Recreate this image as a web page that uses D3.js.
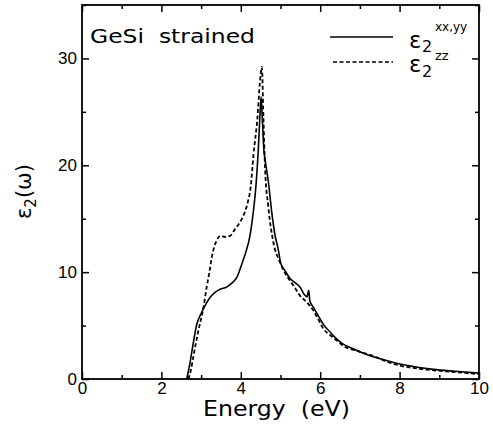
<!DOCTYPE html>
<html>
<head>
<meta charset="utf-8">
<script src="https://cdn.jsdelivr.net/npm/d3@7"></script>
<style>
  body { margin: 0; background: #fff; }
  svg { display: block; font-family: "DejaVu Sans", sans-serif; }
</style>
</head>
<body>
<div id="chart"></div>
<script>
// Energy (eV) / eps2 for the in-plane component (xx,yy)
const energyXY = [2.64, 2.72, 2.80, 2.89, 3.01, 3.12, 3.22, 3.35, 3.48, 3.64, 3.78, 3.90, 4.02, 4.12, 4.23, 4.32, 4.38, 4.44, 4.48, 4.51, 4.54, 4.58, 4.62, 4.69, 4.78, 4.86, 4.95, 5.00, 5.12, 5.24, 5.37, 5.49, 5.60, 5.67, 5.71, 5.74, 5.83, 6.00, 6.10, 6.25, 6.40, 6.58, 6.85, 7.17, 7.60, 8.01, 8.45, 8.85, 9.40, 10.0];
const eps2XY = [0, 1.5, 3.3, 5.1, 6.2, 7.0, 7.6, 8.1, 8.4, 8.6, 9.0, 9.5, 10.7, 11.8, 13.4, 15.8, 18.0, 21.4, 24.5, 26.4, 24.5, 21.5, 20.3, 18.6, 15.6, 13.5, 12.0, 10.9, 10.1, 9.4, 9.0, 8.6, 7.9, 7.7, 8.3, 7.3, 6.7, 5.6, 5.0, 4.4, 3.8, 3.26, 2.8, 2.3, 1.8, 1.4, 1.1, 0.9, 0.72, 0.55];

// zz component (dashed)
const energyZZ = [2.68, 2.74, 2.80, 2.93, 3.06, 3.14, 3.21, 3.27, 3.39, 3.49, 3.60, 3.73, 3.85, 4.00, 4.10, 4.18, 4.25, 4.32, 4.42, 4.48, 4.53, 4.57, 4.61, 4.69, 4.82, 4.99, 5.10, 5.24, 5.37, 5.49, 5.66, 5.83, 5.95, 6.08, 6.25, 6.42, 6.58, 6.95, 7.34, 7.70, 8.01, 8.45, 8.85, 9.40, 10.0];
const eps2ZZ = [0, 0.8, 2.0, 4.5, 6.7, 8.6, 10.0, 11.4, 12.95, 13.4, 13.3, 13.4, 14.0, 14.8, 15.6, 16.6, 18.0, 21.0, 24.5, 27.7, 29.2, 24.5, 19.8, 16.2, 12.8, 10.9, 10.0, 9.2, 8.5, 7.8, 7.2, 6.4, 5.6, 4.7, 4.1, 3.6, 3.1, 2.6, 2.16, 1.6, 1.25, 0.98, 0.82, 0.65, 0.45];

const xTicks = [0, 2, 4, 6, 8, 10];
const xMinor = [1, 3, 5, 7, 9];
const yTicks = [0, 10, 20, 30];
const yMinor = [5, 15, 25, 35];

const width = 493, height = 425;
const margins = {top: 5, right: 14, bottom: 46, left: 82};

const svg = d3.select("#chart")
  .append("svg")
    .attr("width", width)
    .attr("height", height)
    .attr("viewBox", [0, 0, width, height]);

const xScale = d3.scaleLinear()
  .domain([0, 10])
  .range([margins.left, width - margins.right]);

const yScale = d3.scaleLinear()
  .domain([0, 35])
  .range([height - margins.bottom, margins.top]);

/* Axes: ticks point inward on all four sides */
const styleAxis = g => {
  g.select(".domain").remove();
  g.selectAll("line").attr("stroke", "#000").attr("stroke-width", 1.5);
  g.selectAll("text").attr("fill", "#000").style("font-size", "17px");
};

svg.append("g")
  .attr("transform", `translate(0, ${yScale(0)})`)
  .call(d3.axisBottom(xScale).tickValues(xTicks).tickSizeInner(-7).tickPadding(3).tickFormat(d3.format("d")))
  .call(styleAxis);
svg.append("g")
  .attr("transform", `translate(0, ${yScale(0)})`)
  .call(d3.axisBottom(xScale).tickValues(xMinor).tickSizeInner(-4).tickFormat(""))
  .call(styleAxis);
svg.append("g")
  .attr("transform", `translate(0, ${margins.top})`)
  .call(d3.axisTop(xScale).tickValues(xTicks).tickSizeInner(-7).tickFormat(""))
  .call(styleAxis);
svg.append("g")
  .attr("transform", `translate(0, ${margins.top})`)
  .call(d3.axisTop(xScale).tickValues(xMinor).tickSizeInner(-4).tickFormat(""))
  .call(styleAxis);

svg.append("g")
  .attr("transform", `translate(${margins.left}, 0)`)
  .call(d3.axisLeft(yScale).tickValues(yTicks).tickSizeInner(-7).tickPadding(5).tickFormat(d3.format("d")))
  .call(styleAxis);
svg.append("g")
  .attr("transform", `translate(${margins.left}, 0)`)
  .call(d3.axisLeft(yScale).tickValues(yMinor).tickSizeInner(-4).tickFormat(""))
  .call(styleAxis);
svg.append("g")
  .attr("transform", `translate(${width - margins.right}, 0)`)
  .call(d3.axisRight(yScale).tickValues(yTicks).tickSizeInner(-7).tickFormat(""))
  .call(styleAxis);
svg.append("g")
  .attr("transform", `translate(${width - margins.right}, 0)`)
  .call(d3.axisRight(yScale).tickValues(yMinor).tickSizeInner(-4).tickFormat(""))
  .call(styleAxis);

// frame
svg.append("rect")
  .attr("x", xScale(0))
  .attr("y", yScale(35))
  .attr("width", xScale(10) - xScale(0))
  .attr("height", yScale(0) - yScale(35))
  .attr("fill", "none")
  .attr("stroke", "#000")
  .attr("stroke-width", 1.8);

/* Curves */
const line = d3.line()
  .curve(d3.curveMonotoneX)
  .x(d => xScale(d[0]))
  .y(d => yScale(d[1]));

svg.append("path")
  .datum(d3.zip(energyXY, eps2XY))
  .attr("d", line)
  .attr("fill", "none")
  .attr("stroke", "#000")
  .attr("stroke-width", 1.6);

svg.append("path")
  .datum(d3.zip(energyZZ, eps2ZZ))
  .attr("d", line)
  .attr("fill", "none")
  .attr("stroke", "#000")
  .attr("stroke-width", 1.8)
  .attr("stroke-dasharray", "4,2.5");

/* Labels */
svg.append("text")
  .attr("x", 90)
  .attr("y", 43)
  .attr("textLength", 165)
  .attr("lengthAdjust", "spacingAndGlyphs")
  .style("font-size", "20px")
  .style("white-space", "pre")
  .text("GeSi  strained");

svg.append("text")
  .attr("x", (xScale(0) + xScale(10)) / 2 - 4)
  .attr("y", 416)
  .attr("text-anchor", "middle")
  .attr("textLength", 147)
  .attr("lengthAdjust", "spacingAndGlyphs")
  .style("font-size", "21px")
  .style("white-space", "pre")
  .text("Energy  (eV)");

const yLab = svg.append("text")
  .attr("transform", "translate(31, 219) rotate(-90)")
  .style("font-size", "21px");
yLab.append("tspan").text("ε");
yLab.append("tspan").attr("dy", 5).style("font-size", "15px").text("2");
yLab.append("tspan").attr("dy", -5).text("(ω)");

/* Legend */
svg.append("line")
  .attr("x1", 330).attr("x2", 393)
  .attr("y1", 37).attr("y2", 37)
  .attr("stroke", "#000").attr("stroke-width", 1.6);
svg.append("line")
  .attr("x1", 333).attr("x2", 393)
  .attr("y1", 62).attr("y2", 62)
  .attr("stroke", "#000").attr("stroke-width", 1.6)
  .attr("stroke-dasharray", "4,2.5");

const legendText = [
  {x: 409, y: 48, size: 23, t: "ε"},
  {x: 422, y: 52, size: 16, t: "2"},
  {x: 435, y: 31, size: 12, t: "xx,yy"},
  {x: 409, y: 72, size: 23, t: "ε"},
  {x: 422, y: 77, size: 16, t: "2"},
  {x: 435, y: 60, size: 13, t: "zz"}
];
svg.append("g")
  .selectAll("text")
  .data(legendText)
  .join("text")
    .attr("x", d => d.x)
    .attr("y", d => d.y)
    .style("font-size", d => d.size + "px")
    .text(d => d.t);
</script>
</body>
</html>
